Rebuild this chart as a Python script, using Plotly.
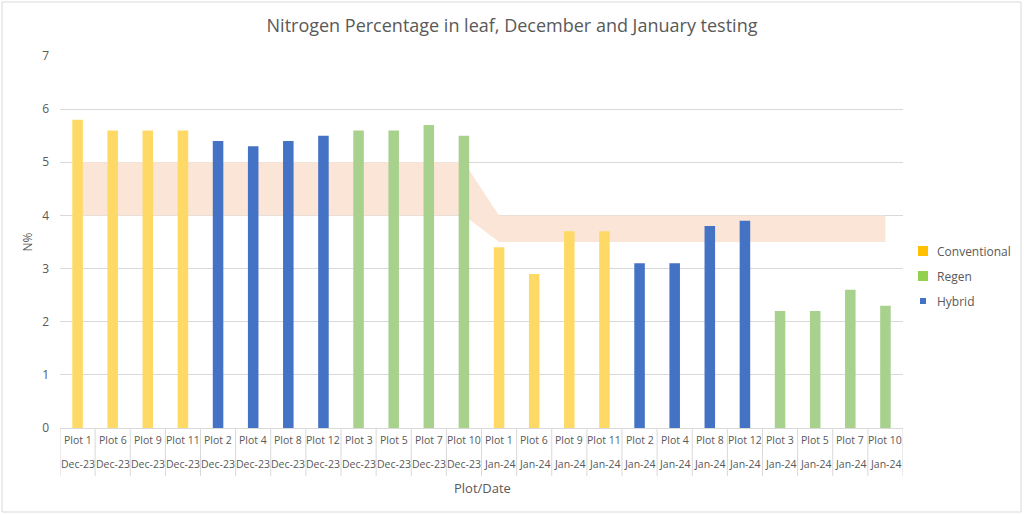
import plotly.graph_objects as go

plots = ["Plot 1", "Plot 6", "Plot 9", "Plot 11", "Plot 2", "Plot 4", "Plot 8", "Plot 12",
         "Plot 3", "Plot 5", "Plot 7", "Plot 10"]
dates = ["Dec-23", "Jan-24"]
groups = ["Conventional"] * 4 + ["Hybrid"] * 4 + ["Regen"] * 4

dec_values = [5.8, 5.6, 5.6, 5.6, 5.4, 5.3, 5.4, 5.5, 5.6, 5.6, 5.7, 5.5]
jan_values = [3.4, 2.9, 3.7, 3.7, 3.1, 3.1, 3.8, 3.9, 2.2, 2.2, 2.6, 2.3]

band_low = [4.0] * 12 + [3.5] * 12
band_high = [5.0] * 12 + [4.0] * 12

legend_names = ["Conventional", "Regen", "Hybrid"]

cat_plot = plots + plots
cat_date = [dates[0]] * 12 + [dates[1]] * 12
cat_group = groups + groups
values = dec_values + jan_values
xs = list(range(len(values)))

bar_colors = {"Conventional": "#FFD966", "Regen": "#A9D18E", "Hybrid": "#4472C4"}
legend_colors = {"Conventional": "#FFC000", "Regen": "#92D050", "Hybrid": "#4472C4"}
legend_half = {"Conventional": 5, "Regen": 5, "Hybrid": 3}

FONT = "Open Sans"
GREY = "#595959"

fig = go.Figure()

# band on the base axes (drawn beneath)
fig.add_trace(go.Scatter(x=xs, y=band_low, mode="lines", line=dict(width=0),
                         showlegend=False, hoverinfo="skip", xaxis="x", yaxis="y"))
fig.add_trace(go.Scatter(x=xs, y=band_high, mode="lines", line=dict(width=0),
                         fill="tonexty", fillcolor="#FBE5D6",
                         showlegend=False, hoverinfo="skip", xaxis="x", yaxis="y"))

# bars on overlaying axes (drawn on top)
for g in legend_names:
    gx = [x for x, gg in zip(xs, cat_group) if gg == g]
    gy = [v for v, gg in zip(values, cat_group) if gg == g]
    fig.add_trace(go.Bar(x=gx, y=gy, width=0.3, marker=dict(color=bar_colors[g], line=dict(width=0)),
                         showlegend=False, name=g, xaxis="x2", yaxis="y2"))

# Plot area: x 60..903, y 56..428
L, R, T, B = 60, 903, 56, 428
W, H = 1024, 515
pw, ph = R - L, B - T

def py(p):
    return (B - p) / ph

def px(p):
    return (p - L) / pw

annotations = []
for i, (p, d) in enumerate(zip(cat_plot, cat_date)):
    annotations.append(dict(x=i, y=py(440), xref="x", yref="paper", text=p, showarrow=False,
                            font=dict(size=10.5, color=GREY, family=FONT), yanchor="middle"))
    annotations.append(dict(x=i, y=py(464), xref="x", yref="paper", text=d, showarrow=False,
                            font=dict(size=10.5, color=GREY, family=FONT), yanchor="middle"))

shapes = []
for i in range(len(values) + 1):
    shapes.append(dict(type="line", xref="x", yref="paper", x0=i - 0.5, x1=i - 0.5,
                       y0=py(429), y1=py(476), line=dict(color="#D9D9D9", width=1)))
shapes.append(dict(type="rect", xref="paper", yref="paper", x0=px(2), x1=px(1021),
                   y0=py(2), y1=py(512), line=dict(color="#D9D9D9", width=1), layer="below"))

# custom legend
for k, g in enumerate(legend_names):
    cy = 251 + 25 * k
    cx = 923
    hs = legend_half[g]
    shapes.append(dict(type="rect", xref="paper", yref="paper",
                       x0=px(cx - hs), x1=px(cx + hs), y0=py(cy + hs), y1=py(cy - hs),
                       fillcolor=legend_colors[g], line=dict(width=0)))
    annotations.append(dict(x=px(935), y=py(cy), xref="paper", yref="paper", text=g,
                            showarrow=False, xanchor="left", yanchor="middle",
                            font=dict(size=12, color=GREY, family=FONT)))

fig.update_layout(
    width=W, height=H,
    margin=dict(l=L, r=W - R, t=T, b=H - B, autoexpand=False),
    paper_bgcolor="white", plot_bgcolor="white",
    barmode="overlay",
    title=dict(text="Nitrogen Percentage in leaf, December and January testing",
               x=0.5, xanchor="center", y=1 - 26 / H, yanchor="middle",
               font=dict(size=18, color=GREY, family=FONT)),
    xaxis=dict(range=[-0.5, len(values) - 0.5], showticklabels=False, showgrid=False,
               zeroline=False, showline=False, ticks=""),
    yaxis=dict(range=[0, 7], dtick=1, showgrid=True, gridcolor="#D9D9D9", gridwidth=1,
               zeroline=True, zerolinecolor="#D9D9D9", zerolinewidth=1,
               tickfont=dict(size=12, color=GREY, family=FONT), ticks="", ticklen=0,
               ticklabelstandoff=10,
               title=dict(text="N%", font=dict(size=12, color=GREY, family=FONT), standoff=6)),
    xaxis2=dict(range=[-0.5, len(values) - 0.5], overlaying="x", showticklabels=False,
                showgrid=False, zeroline=False, showline=False, ticks=""),
    yaxis2=dict(range=[0, 7], overlaying="y", showticklabels=False, showgrid=False,
                zeroline=False, showline=False, ticks=""),
    annotations=annotations + [dict(x=px(482), y=py(488), xref="paper", yref="paper",
                                    text="Plot/Date", showarrow=False, yanchor="middle",
                                    font=dict(size=13, color=GREY, family=FONT))],
    shapes=shapes,
    showlegend=False,
)

fig.write_html("out.html", config={"displayModeBar": False},
               post_script="document.body.style.margin='0';document.body.style.overflow='hidden';")
